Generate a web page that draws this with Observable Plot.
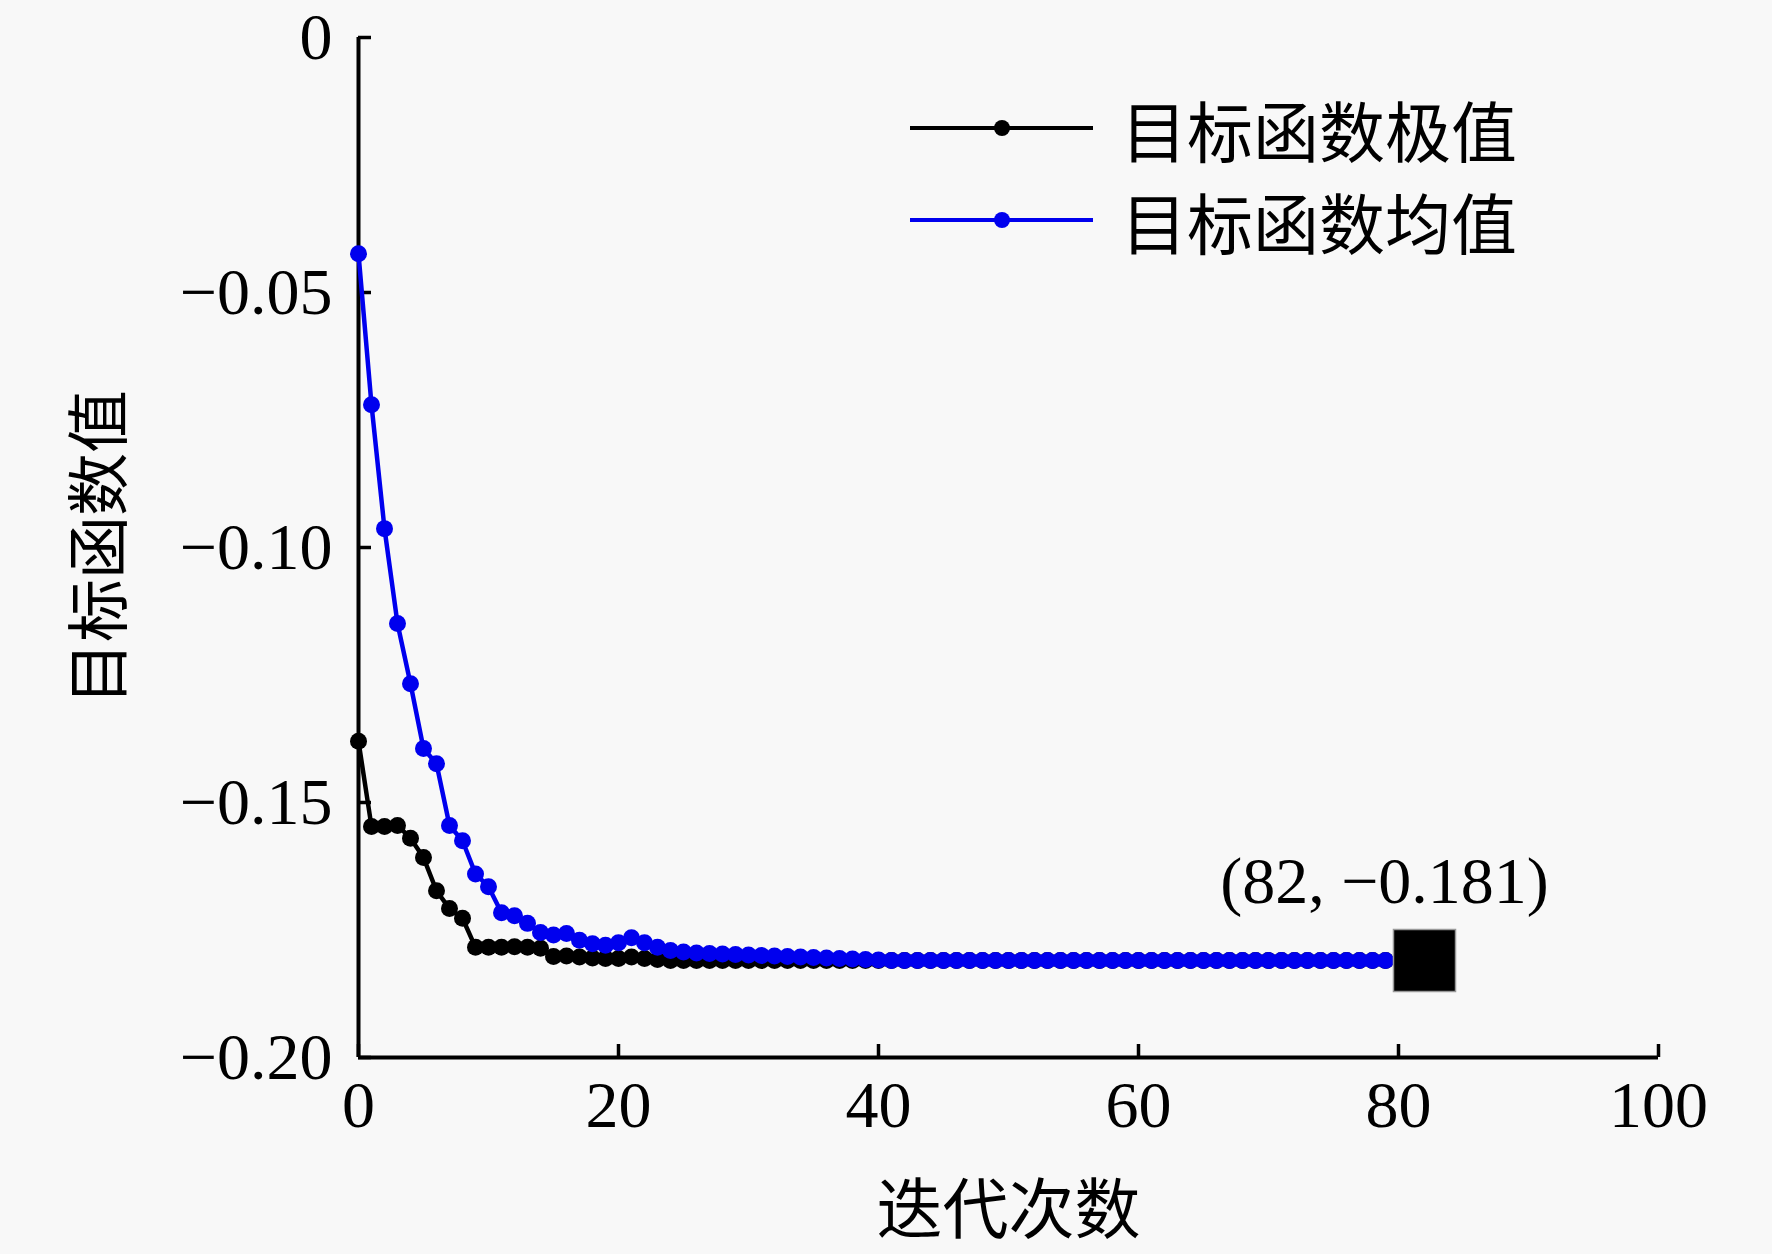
<!DOCTYPE html>
<html>
<head>
<meta charset="utf-8">
<script src="https://cdn.jsdelivr.net/npm/d3@7"></script>
<script src="https://cdn.jsdelivr.net/npm/@observablehq/plot@0.6"></script>
<style>
  html, body { margin: 0; padding: 0; background: #f8f8f8; }
  #wrap { position: relative; width: 1772px; height: 1254px; background: #f8f8f8; }
  .lg-row { position: absolute; display: flex; align-items: center; }
  .lg-text { font-family: "Noto Sans CJK SC", sans-serif; font-size: 66px; line-height: 66px; color: #000; margin-left: 28px; white-space: nowrap; }
</style>
</head>
<body>
<div id="wrap"></div>
<script>
// ---- data ----
const iterations = [
  0,1,2,3,4,5,6,7,8,9,10,11,12,13,14,15,16,17,18,19,
  20,21,22,23,24,25,26,27,28,29,30,31,32,33,34,35,36,37,38,39,
  40,41,42,43,44,45,46,47,48,49,50,51,52,53,54,55,56,57,58,59,
  60,61,62,63,64,65,66,67,68,69,70,71,72,73,74,75,76,77,78,79
];
const extremeValues = [
  -0.138, -0.1547, -0.1547, -0.1545, -0.157, -0.1608, -0.1673, -0.1708, -0.1727, -0.1784,
  -0.1784, -0.1784, -0.1783, -0.1784, -0.1786, -0.1802, -0.1801, -0.1803, -0.1805, -0.1806,
  -0.1806, -0.1803, -0.1806, -0.1808, -0.181, -0.181, -0.181, -0.181, -0.181, -0.181,
  -0.181, -0.181, -0.181, -0.181, -0.181, -0.181, -0.181, -0.181, -0.181, -0.181,
  -0.181, -0.181, -0.181, -0.181, -0.181, -0.181, -0.181, -0.181, -0.181, -0.181,
  -0.181, -0.181, -0.181, -0.181, -0.181, -0.181, -0.181, -0.181, -0.181, -0.181,
  -0.181, -0.181, -0.181, -0.181, -0.181, -0.181, -0.181, -0.181, -0.181, -0.181,
  -0.181, -0.181, -0.181, -0.181, -0.181, -0.181, -0.181, -0.181, -0.181, -0.181
];
const meanValues = [
  -0.0424, -0.072, -0.0963, -0.1149, -0.1267, -0.1394, -0.1424, -0.1545, -0.1575, -0.164,
  -0.1665, -0.1716, -0.1722, -0.1737, -0.1755, -0.176, -0.1757, -0.177, -0.1777, -0.178,
  -0.1775, -0.1765, -0.1775, -0.1784, -0.179, -0.1793, -0.1795, -0.1796, -0.1797, -0.1798,
  -0.1799, -0.18, -0.1801, -0.1802, -0.1803, -0.1804, -0.1805, -0.1806, -0.1807, -0.1808,
  -0.1809, -0.181, -0.181, -0.181, -0.181, -0.181, -0.181, -0.181, -0.181, -0.181,
  -0.181, -0.181, -0.181, -0.181, -0.181, -0.181, -0.181, -0.181, -0.181, -0.181,
  -0.181, -0.181, -0.181, -0.181, -0.181, -0.181, -0.181, -0.181, -0.181, -0.181,
  -0.181, -0.181, -0.181, -0.181, -0.181, -0.181, -0.181, -0.181, -0.181, -0.181
];
const seriesNames = ["目标函数极值", "目标函数均值"];
const seriesColors = ["#000000", "#0000ee"];
const xTicks = [0, 20, 40, 60, 80, 100];
const yTicks = [0, -0.05, -0.10, -0.15, -0.20];
const annotX = [82];
const annotY = [-0.181];
const annotLabel = ["(82, −0.181)"];
const xTitle = "迭代次数";
const yTitle = "目标函数值";

// ---- build ----
const extremeData = iterations.map((it, i) => ({x: it, y: extremeValues[i]}));
const meanData = iterations.map((it, i) => ({x: it, y: meanValues[i]}));
const annotData = annotX.map((x, i) => ({x, y: annotY[i], label: annotLabel[i]}));
const fmtY = d => d === 0 ? "0" : d3.format(".2f")(d);

const chart = Plot.plot({
  width: 1772,
  height: 1254,
  marginLeft: 358,
  marginRight: 114,
  marginTop: 37,
  marginBottom: 197,
  x: {domain: [0, 100]},
  y: {domain: [-0.2, 0]},
  style: {background: "transparent", fontFamily: "'Liberation Serif', 'Times New Roman', serif", color: "#000"},
  marks: [
    Plot.axisX({ticks: xTicks, tickSize: -13, tickPadding: 36, strokeWidth: 3.5, tickFormat: d => String(d), fontSize: 66, label: null}),
    Plot.axisY({ticks: yTicks, tickSize: -13, tickPadding: 39, strokeWidth: 3.5, tickFormat: fmtY, fontSize: 66, label: null}),
    Plot.ruleX([0], {stroke: "#000", strokeWidth: 4}),
    Plot.ruleY([-0.2], {stroke: "#000", strokeWidth: 4}),
    Plot.text([xTitle], {frameAnchor: "bottom", dy: 154, fontSize: 66, lineAnchor: "middle", textAnchor: "middle", fontFamily: "'Noto Sans CJK SC', sans-serif"}),
    Plot.text([yTitle], {frameAnchor: "left", dx: -258, rotate: -90, fontSize: 63, lineAnchor: "middle", textAnchor: "middle", fontFamily: "'Noto Sans CJK SC', sans-serif"}),
    Plot.line(extremeData, {x: "x", y: "y", stroke: seriesColors[0], strokeWidth: 4.5}),
    Plot.dot(extremeData, {x: "x", y: "y", r: 8.5, fill: seriesColors[0]}),
    Plot.line(meanData, {x: "x", y: "y", stroke: seriesColors[1], strokeWidth: 4.5}),
    Plot.dot(meanData, {x: "x", y: "y", r: 8.5, fill: seriesColors[1]}),
    Plot.dot(annotData, {x: "x", y: "y", symbol: "square", r: 35, fill: "#000", stroke: "#999", strokeWidth: 1.5}),
    Plot.text(annotData, {x: "x", y: "y", text: "label", dx: -40, dy: -79, fontSize: 66, lineAnchor: "middle", textAnchor: "middle"})
  ]
});

const wrap = document.getElementById("wrap");
wrap.appendChild(chart);

// legend overlay
const legendTop = [128, 220];
seriesNames.forEach((name, i) => {
  const row = document.createElement("div");
  row.className = "lg-row";
  row.style.left = "910px";
  row.style.top = (legendTop[i] - 33) + "px";
  row.style.height = "66px";
  const sw = d3.create("svg").attr("width", 183).attr("height", 20);
  sw.append("line").attr("x1", 0).attr("x2", 183).attr("y1", 10).attr("y2", 10)
    .attr("stroke", seriesColors[i]).attr("stroke-width", 4);
  sw.append("circle").attr("cx", 92).attr("cy", 10).attr("r", 8).attr("fill", seriesColors[i]);
  row.appendChild(sw.node());
  const t = document.createElement("span");
  t.className = "lg-text";
  t.textContent = name;
  row.appendChild(t);
  wrap.appendChild(row);
});
</script>
</body>
</html>
